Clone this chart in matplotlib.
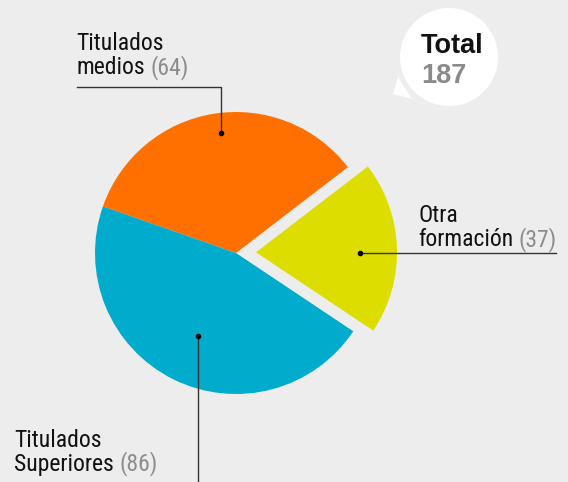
import numpy as np
import matplotlib.pyplot as plt
from matplotlib.patches import Circle, Polygon
from matplotlib import font_manager

# data
labels = ["Titulados\nmedios", "Titulados\nSuperiores", "Otra\nformación"]
values = [64, 86, 37]
colors = ["#ff7000", "#00abcc", "#dedd00"]
total = sum(values)

W, H = 568, 482
bg = "#ededed"
line_col = "#333333"
grey = "#8c8c8c"

# narrowest font that is installed
names = {f.name for f in font_manager.fontManager.ttflist}
condensed = [n for n in ["DejaVu Sans Condensed", "Liberation Sans Narrow",
                         "Roboto Condensed", "Open Sans Condensed"] if n in names]
if condensed:
    font, fs, gap = condensed[0], 17, 24.5
else:
    font, fs, gap = "Liberation Sans", 15, 24.5

fig = plt.figure(figsize=(W / 100, H / 100), dpi=100, facecolor=bg)
ax = fig.add_axes([0, 0, 1, 1])
ax.set_facecolor(bg)

# pie in pixel coordinates (y up)
cx, cy, R = 236, 229, 141
wedges, _ = ax.pie(values, colors=colors, startangle=37.5, counterclock=True,
                   radius=R, center=(cx, cy), explode=[0, 0, 20],
                   wedgeprops=dict(linewidth=0))
ax.set_xlim(0, W)
ax.set_ylim(0, H)
ax.set_aspect("auto")
ax.axis("off")


def anchor(w, frac, dang=0):
    mid = np.deg2rad((w.theta1 + w.theta2) / 2 + dang)
    x0, y0 = w.center
    return x0 + frac * R * np.cos(mid), y0 + frac * R * np.sin(mid)


def label(x, y, lines, value):
    # first line, then second line plus grey value
    ax.text(x, y, lines[0], fontsize=fs, family=font, color="#111111",
            va="baseline", ha="left")
    t = ax.text(x, y - gap, lines[1], fontsize=fs, family=font,
                color="#111111", va="baseline", ha="left")
    ax.annotate("(%d)" % value, xy=(1, 0), xycoords=t, xytext=(4, 0),
                textcoords="offset points", fontsize=fs, family=font,
                color=grey, va="bottom", ha="left")


# Titulados medios
ax_, ay_ = anchor(wedges[0], 0.86, -2)
ax.plot([ax_, ax_, 77], [ay_, H - 87, H - 87], color=line_col, lw=1)
ax.plot(ax_, ay_, "o", color="k", ms=3)
label(76, H - 50, labels[0].split("\n"), values[0])

# Titulados Superiores
bx, by = anchor(wedges[1], 0.65, 2)
ax.plot([bx, bx], [by, 0], color=line_col, lw=1)
ax.plot(bx, by, "o", color="k", ms=3)
label(14, H - 447, labels[1].split("\n"), values[1])

# Otra formacion
ox, oy = anchor(wedges[2], 0.74, -2)
ax.plot([ox, 556], [oy, oy], color=line_col, lw=1)
ax.plot(ox, oy, "o", color="k", ms=3)
label(418, H - 222, labels[2].split("\n"), values[2])

# total bubble
ax.add_patch(Polygon([(393, H - 94), (398, H - 77), (412, H - 99)],
                     closed=True, facecolor="white", edgecolor="none"))
ax.add_patch(Circle((449, H - 57), 49, facecolor="white", edgecolor="none"))
ax.text(421, H - 53, "Total", fontsize=19.5, fontweight="bold",
        family="Liberation Sans", color="#111111", va="baseline")
ax.text(421, H - 83, str(total), fontsize=19.5, fontweight="bold",
        family="Liberation Sans", color="#8a8a8a", va="baseline")

fig.savefig("out.png", dpi=100, facecolor=bg)
